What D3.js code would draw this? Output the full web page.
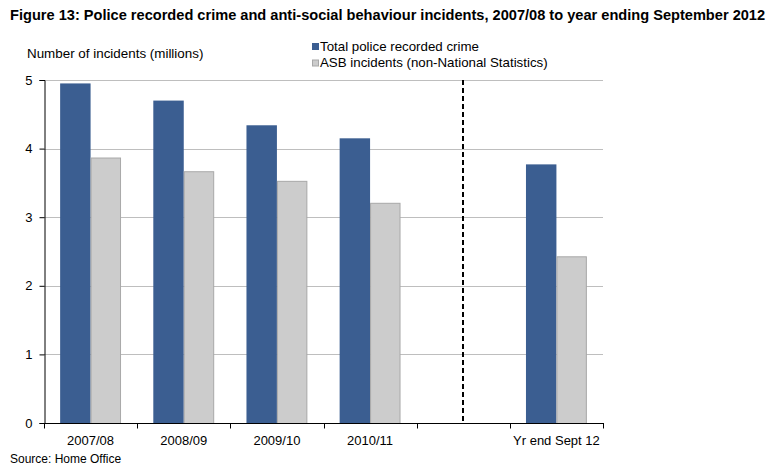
<!DOCTYPE html>
<html>
<head>
<meta charset="utf-8">
<script src="https://cdn.jsdelivr.net/npm/d3@7"></script>
<style>
  body { margin: 0; background: #fff; }
  svg text { font-family: "Liberation Sans", Arial, sans-serif; fill: #000; }
</style>
</head>
<body>
<svg id="chart" width="770" height="469"></svg>
<script>
// slots on the x axis; the blank one holds the dashed break line
var slots = ["2007/08", "2008/09", "2009/10", "2010/11", "gap", "Yr end Sept 12"];
var categories = ["2007/08", "2008/09", "2009/10", "2010/11", "Yr end Sept 12"];
var seriesNames = ["Total police recorded crime", "ASB incidents (non-National Statistics)"];
var crimeValues = [4.95, 4.70, 4.34, 4.15, 3.77];
var asbValues = [3.87, 3.67, 3.53, 3.21, 2.43];
var yTicks = [0, 1, 2, 3, 4, 5];
var colors = ["#3b5e91", "#cccccc"];

var svg = d3.select("#chart");
var plotLeft = 44, plotRight = 603, plotTop = 80, plotBottom = 423;

var x = d3.scaleBand()
    .domain(slots)
    .range([plotLeft, plotRight])
    .padding(0);

var xInner = d3.scaleBand()
    .domain(seriesNames)
    .range([0, x.bandwidth()])
    .paddingInner(0)
    .paddingOuter(0.53);

var y = d3.scaleLinear()
    .domain([0, 5])
    .range([plotBottom, plotTop]);

// title
svg.append("text")
    .attr("x", 10)
    .attr("y", 20)
    .attr("font-weight", "bold")
    .style("font-size", "14.6px")
    .text("Figure 13: Police recorded crime and anti-social behaviour incidents, 2007/08 to year ending September 2012");

svg.append("text")
    .attr("x", 27)
    .attr("y", 58)
    .style("font-size", "13.4px")
    .text("Number of incidents (millions)");

// gridlines
svg.append("g")
    .selectAll("line")
    .data(yTicks.filter(d => d > 0))
    .enter()
    .append("line")
    .attr("x1", plotLeft)
    .attr("x2", plotRight)
    .attr("y1", d => Math.round(y(d)) + 0.5)
    .attr("y2", d => Math.round(y(d)) + 0.5)
    .attr("stroke", "#bebebe")
    .attr("stroke-width", 1);

// bars
var rows = categories.map(function (c, i) {
    return { cat: c, values: [crimeValues[i], asbValues[i]] };
});

var groups = svg.append("g")
    .selectAll("g")
    .data(rows)
    .enter()
    .append("g")
    .attr("transform", d => "translate(" + x(d.cat) + ",0)");

groups.selectAll("rect")
    .data(d => d.values.map((v, i) => ({ name: seriesNames[i], value: v, i: i })))
    .enter()
    .append("rect")
    .attr("x", d => xInner(d.name) + (d.i == 1 ? 0.5 : 0))
    .attr("y", d => y(d.value) + (d.i == 1 ? 0.5 : 0))
    .attr("width", d => xInner.bandwidth() - (d.i == 1 ? 1 : 0))
    .attr("height", d => plotBottom - y(d.value))
    .attr("fill", d => colors[d.i])
    .attr("stroke", d => d.i == 1 ? "#a8a8a8" : "none")
    .attr("stroke-width", 1);

// dashed break line
var gapX = Math.round(x("gap") + x.bandwidth() / 2);
svg.append("line")
    .attr("x1", gapX)
    .attr("x2", gapX)
    .attr("y1", plotTop)
    .attr("y2", plotBottom)
    .attr("stroke", "#000")
    .attr("stroke-width", 2)
    .attr("stroke-dasharray", "5,3");

// y axis
var yAxis = svg.append("g")
    .attr("transform", "translate(" + (plotLeft + 0.5) + ",0)")
    .call(d3.axisLeft(y).tickValues(yTicks).tickSize(5).tickFormat(d3.format("d")));
yAxis.select(".domain").attr("stroke", "#000");
yAxis.selectAll("text").style("font-size", "13px").attr("font-family", null).attr("x", -12);

// x axis: ticks at slot boundaries
var xAxis = svg.append("g")
    .attr("transform", "translate(0," + (plotBottom + 0.5) + ")");
xAxis.append("line")
    .attr("x1", plotLeft)
    .attr("x2", plotRight + 1)
    .attr("stroke", "#000");
xAxis.selectAll("line.tick")
    .data(slots.concat(["end"]))
    .enter()
    .append("line")
    .attr("class", "tick")
    .attr("x1", (d, i) => Math.round(plotLeft + i * x.bandwidth()) + 0.5)
    .attr("x2", (d, i) => Math.round(plotLeft + i * x.bandwidth()) + 0.5)
    .attr("y1", 0)
    .attr("y2", 5)
    .attr("stroke", "#000");
xAxis.selectAll("text")
    .data(categories)
    .enter()
    .append("text")
    .attr("x", d => x(d) + x.bandwidth() / 2)
    .attr("y", 21.5)
    .attr("text-anchor", "middle")
    .style("font-size", "13px")
    .text(d => d);

// legend
var legend = svg.append("g")
    .selectAll("g")
    .data(seriesNames)
    .enter()
    .append("g")
    .attr("transform", (d, i) => "translate(312," + (43 + i * 16.5) + ")");
legend.append("rect")
    .attr("x", 0.5)
    .attr("y", 0.5)
    .attr("width", 6)
    .attr("height", 6)
    .attr("fill", (d, i) => colors[i])
    .attr("stroke", (d, i) => i == 1 ? "#a8a8a8" : "#3b5e91");
legend.append("text")
    .attr("x", 8)
    .attr("y", 7.5)
    .style("font-size", "13.3px")
    .text(d => d);

svg.append("text")
    .attr("x", 10)
    .attr("y", 463)
    .style("font-size", "12px")
    .text("Source: Home Office");
</script>
</body>
</html>
